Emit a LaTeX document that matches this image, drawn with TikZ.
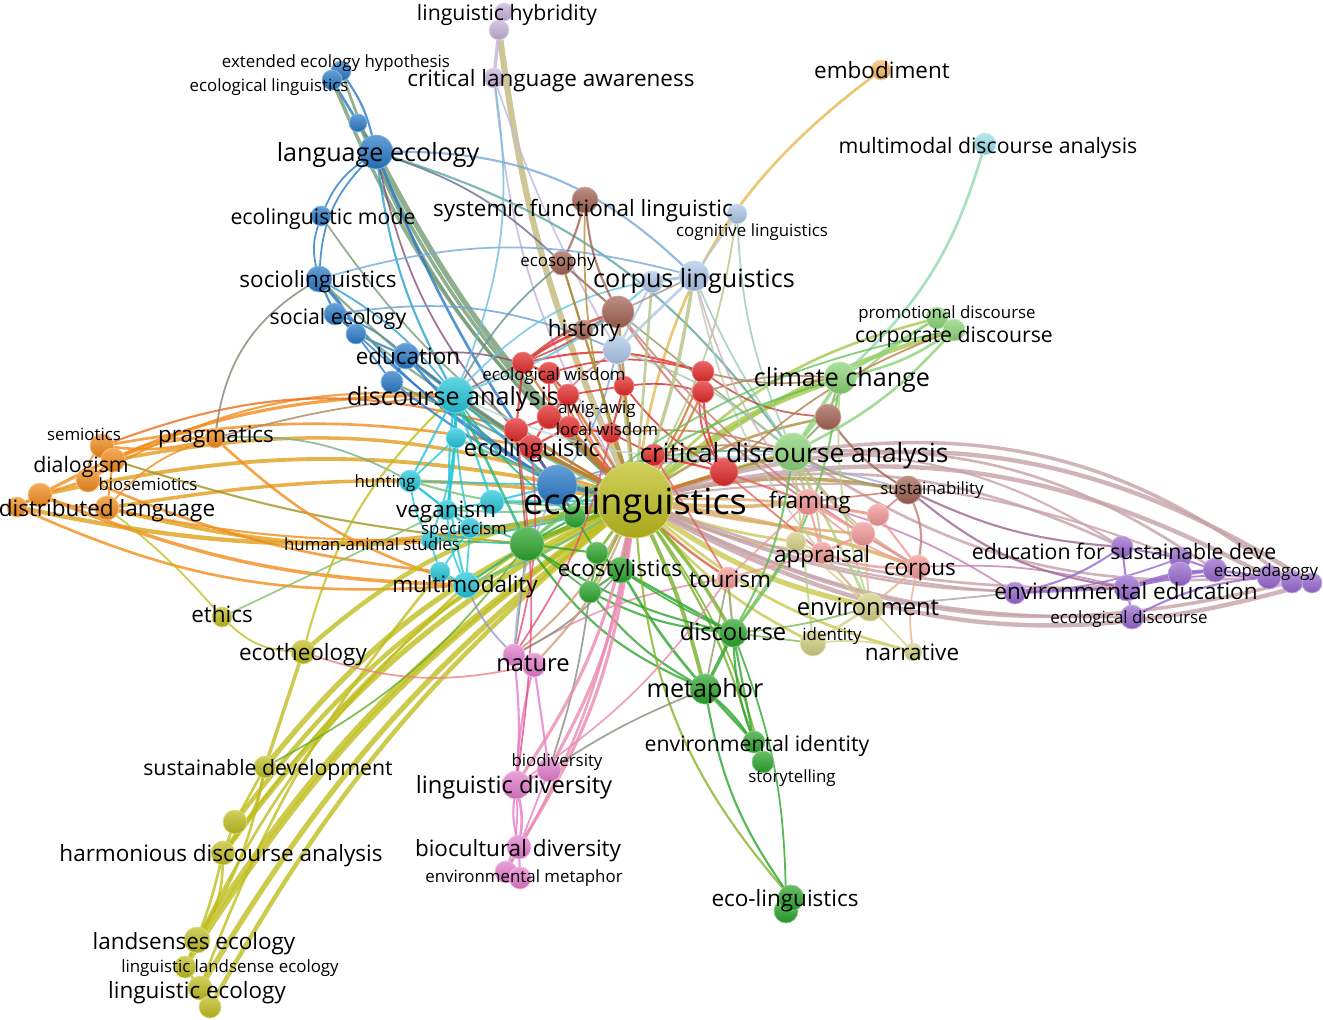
\documentclass[tikz,border=0pt]{standalone}
\usepackage{fontspec}
\setmainfont{Open Sans}
\definecolor{cRed}{RGB}{226,40,40}
\definecolor{cGreen}{RGB}{44,165,44}
\definecolor{cBlue}{RGB}{40,122,200}
\definecolor{cOlive}{RGB}{192,190,30}
\definecolor{cPurple}{RGB}{152,104,208}
\definecolor{cCyan}{RGB}{34,198,218}
\definecolor{cOrange}{RGB}{242,140,28}
\definecolor{cBrown}{RGB}{162,98,82}
\definecolor{cPink}{RGB}{228,124,204}
\definecolor{cLBlue}{RGB}{172,198,232}
\definecolor{cLGreen}{RGB}{140,212,120}
\definecolor{cSalmon}{RGB}{242,152,150}
\definecolor{cKhaki}{RGB}{212,208,132}
\definecolor{cLOrange}{RGB}{246,184,100}
\definecolor{cLCyan}{RGB}{152,222,232}
\definecolor{cLav}{RGB}{198,178,218}
\definecolor{cPO}{RGB}{198,162,168}
\pgfdeclarelayer{bg}
\pgfsetlayers{bg,main}
\tikzset{
  kw/.style={circle, inner sep=0pt, minimum size=#1*0.04cm},
  cl/.style={top color=#1!72!white, bottom color=#1!88!black, draw=#1!55!white, line width=0.4pt},
  lbl/.style={inner sep=0pt, text=black, yshift=-1.4pt},
  fXL/.style={lbl, font=\fontsize{20.5}{24}\selectfont, text height=15.4pt, text depth=4.5pt},
  fL/.style={lbl, font=\fontsize{14.3}{17}\selectfont, text height=10.7pt, text depth=3.1pt},
  fML/.style={lbl, font=\fontsize{13.5}{16}\selectfont, text height=10.1pt, text depth=3pt},
  fM/.style={lbl, font=\fontsize{12.8}{15}\selectfont, text height=9.6pt, text depth=2.8pt},
  fm/.style={lbl, font=\fontsize{12.1}{14}\selectfont, text height=9.1pt, text depth=2.7pt},
  fS/.style={lbl, font=\fontsize{9.6}{11}\selectfont, text height=7.2pt, text depth=2.1pt},
  lnk/.style={opacity=0.8, line cap=round}
}
\begin{document}
\begin{tikzpicture}[x=0.02cm, y=-0.02cm]
\useasboundingbox (0,0) rectangle (1323,1019);
%blue
\node[kw=10,cl=cBlue] (eeh) at (341,71) {};
\node[kw=10,cl=cBlue] (ell) at (332,80) {};
\node[kw=9,cl=cBlue] (b1) at (358,123) {};
\node[kw=17,cl=cBlue] (lec) at (376,152) {};
\node[kw=10,cl=cBlue] (emo) at (321,216) {};
\node[kw=13,cl=cBlue] (soc) at (319,279) {};
\node[kw=11,cl=cBlue] (sec) at (335,314) {};
\node[kw=10,cl=cBlue] (b2) at (356,334) {};
\node[kw=13,cl=cBlue] (edu) at (406,356) {};
\node[kw=11,cl=cBlue] (b3) at (392,382) {};
%cyan
\node[kw=18,cl=cCyan] (dan) at (455,395) {};
\node[kw=10,cl=cCyan] (c1) at (456,438) {};
\node[kw=11,cl=cCyan] (hun) at (410,481) {};
\node[kw=10,cl=cCyan] (veg) at (447,510) {};
\node[kw=12,cl=cCyan] (c2) at (492,502) {};
\node[kw=10,cl=cCyan] (spe) at (470,528) {};
\node[kw=9,cl=cCyan] (has) at (430,540) {};
\node[kw=10,cl=cCyan] (c3) at (440,572) {};
\node[kw=13,cl=cCyan] (mmo) at (466,585) {};
\node[kw=11,cl=cLCyan] (mda) at (985,144) {};
%red
\node[kw=11,cl=cRed] (r1) at (523,363) {};
\node[kw=11,cl=cRed] (ewi) at (549,373) {};
\node[kw=11,cl=cRed] (r2) at (568,395) {};
\node[kw=10,cl=cRed] (r3) at (624,386) {};
\node[kw=12,cl=cRed] (r4) at (549,417) {};
\node[kw=11,cl=cRed] (r5) at (569,427) {};
\node[kw=10,cl=cRed] (lwi) at (611,433) {};
\node[kw=12,cl=cRed] (r6) at (516,430) {};
\node[kw=12,cl=cRed] (eli) at (531,447) {};
\node[kw=11,cl=cRed] (r7) at (654,455) {};
\node[kw=11,cl=cRed] (r8) at (703,372) {};
\node[kw=11,cl=cRed] (r9) at (703,392) {};
\node[kw=14,cl=cRed] (r10) at (724,472) {};
%brown
\node[kw=13,cl=cBrown] (sfl) at (585,200) {};
\node[kw=12,cl=cBrown] (esp) at (562,263) {};
\node[kw=16,cl=cBrown] (br1) at (618,312) {};
\node[kw=10,cl=cBrown] (his) at (583,330) {};
\node[kw=13,cl=cBrown] (br2) at (828,417) {};
\node[kw=14,cl=cBrown] (sus) at (908,490) {};
%light blue
\node[kw=10,cl=cLBlue] (cog) at (737,214) {};
\node[kw=11,cl=cLBlue] (lb1) at (652,282) {};
\node[kw=15,cl=cLBlue] (cli) at (694,276) {};
\node[kw=14,cl=cLBlue] (lb2) at (617,350) {};
%light green
\node[kw=11,cl=cLGreen] (pro) at (937,318) {};
\node[kw=11,cl=cLGreen] (cor) at (954,330) {};
\node[kw=16,cl=cLGreen] (cch) at (840,378) {};
\node[kw=19,cl=cLGreen] (cda) at (793,452) {};
%salmon
\node[kw=13,cl=cSalmon] (fra) at (808,502) {};
\node[kw=11,cl=cSalmon] (s1) at (878,515) {};
\node[kw=12,cl=cSalmon] (s2) at (863,534) {};
\node[kw=11,cl=cSalmon] (app) at (822,553) {};
\node[kw=11,cl=cSalmon] (tou) at (728,578) {};
\node[kw=12,cl=cSalmon] (cpu) at (918,567) {};
%khaki
\node[kw=10,cl=cKhaki] (k1) at (796,542) {};
\node[kw=14,cl=cKhaki] (env) at (870,607) {};
\node[kw=13,cl=cKhaki] (ide) at (813,643) {};
\node[kw=9,cl=cKhaki] (nar) at (913,652) {};
%green
\node[kw=17,cl=cGreen] (g1) at (527,544) {};
\node[kw=11,cl=cGreen] (g2) at (575,517) {};
\node[kw=11,cl=cGreen] (g3) at (597,553) {};
\node[kw=13,cl=cGreen] (est) at (621,570) {};
\node[kw=11,cl=cGreen] (g4) at (590,592) {};
\node[kw=14,cl=cGreen] (dsc) at (733,633) {};
\node[kw=15,cl=cGreen] (met) at (705,689) {};
\node[kw=11,cl=cGreen] (eid) at (754,742) {};
\node[kw=11,cl=cGreen] (sto) at (763,762) {};
\node[kw=12,cl=cGreen] (g5) at (786,911) {};
\node[kw=13,cl=cGreen] (elg) at (791,898) {};
%pink
\node[kw=11,cl=cPink] (nat) at (514,655) {};
\node[kw=12,cl=cPink] (nat2) at (534,665) {};
\node[kw=12,cl=cPink] (bio) at (549,770) {};
\node[kw=14,cl=cPink] (ldi) at (516,785) {};
\node[kw=12,cl=cPink] (bcd) at (519,847) {};
\node[kw=11,cl=cPink] (emt) at (506,872) {};
\node[kw=11,cl=cPink] (emt2) at (520,878) {};
%purple
\node[kw=11,cl=cPurple] (esd) at (1122,547) {};
\node[kw=11,cl=cPurple] (p1) at (1180,558) {};
\node[kw=12,cl=cPurple] (p2) at (1180,574) {};
\node[kw=12,cl=cPurple] (p3) at (1215,570) {};
\node[kw=12,cl=cPurple] (p4) at (1269,577) {};
\node[kw=11,cl=cPurple] (p5) at (1292,582) {};
\node[kw=10,cl=cPurple] (p6) at (1312,583) {};
\node[kw=13,cl=cPurple] (ee) at (1127,588) {};
\node[kw=11,cl=cPurple] (ee1) at (1015,593) {};
\node[kw=12,cl=cPurple] (eds) at (1132,617) {};
%lavender, light orange
\node[kw=9,cl=cLav] (lhy2) at (504,12) {};
\node[kw=10,cl=cLav] (lhy) at (499,30) {};
\node[kw=10,cl=cLav] (cla) at (494,78) {};
\node[kw=10,cl=cLOrange] (emb) at (881,70) {};
%orange
\node[kw=12,cl=cOrange] (sem) at (102,446) {};
\node[kw=12,cl=cOrange] (dia) at (113,460) {};
\node[kw=12,cl=cOrange] (o1) at (88,480) {};
\node[kw=12,cl=cOrange] (o2) at (40,495) {};
\node[kw=10,cl=cOrange] (o3) at (17,507) {};
\node[kw=12,cl=cOrange] (o4) at (107,508) {};
\node[kw=10,cl=cOrange] (prg) at (215,438) {};
%olive
\node[kw=10,cl=cOlive] (eth) at (222,617) {};
\node[kw=12,cl=cOlive] (etg) at (303,652) {};
\node[kw=11,cl=cOlive] (sde) at (265,767) {};
\node[kw=12,cl=cOlive] (y1) at (235,822) {};
\node[kw=12,cl=cOlive] (hda) at (223,853) {};
\node[kw=13,cl=cOlive] (lse) at (197,940) {};
\node[kw=11,cl=cOlive] (lle) at (185,967) {};
\node[kw=12,cl=cOlive] (lie) at (200,988) {};
\node[kw=11,cl=cOlive] (y2) at (210,1007) {};
\node[kw=20,cl=cBlue] (b4) at (557,485) {};
\node[kw=38,cl=cOlive] (eco) at (635,500) {};
%links
\begin{pgfonlayer}{bg}
\fill[white] (0,0) rectangle (1323,1019);
\foreach \a/\b/\bd/\cc/\w in {
  o2/eco/12/cOrange!60!cOlive/2.2, o3/dan/14/cOrange/1.8, sem/eli/10/cOrange/1.5,
  dia/eco/14/cOrange!70!cOlive/2, o1/dan/16/cOrange/1.2, sem/r6/18/cOrange!70!cRed/1.2,
  o4/eco/8/cOrange!70!cOlive/2, o3/eco/-12/cOrange!60!cOlive/2.5, o2/mmo/-10/cOrange/2,
  o4/eco/-14/cOrange!60!cOlive/2.2, o1/c3/-8/cOrange/1.5, dia/g1/-6/cOrange!60!cGreen/1.2,
  o3/mmo/-14/cOrange/1.5, o4/has/-6/cOrange/1.2, prg/mmo/-12/cOrange/1.5,
  sem/dia/0/cOrange/1.2, sem/o1/-20/cOrange/1, dia/o1/0/cOrange/1.5, o1/o2/0/cOrange/1.5,
  o2/o3/0/cOrange/1.2, o2/o4/-10/cOrange/1.2, dia/o4/0/cOrange/1.2, sem/prg/-10/cOrange/1.5,
  dia/prg/10/cOrange/1.2, o1/prg/20/cOrange/1, o4/prg/15/cOrange/1, o4/eth/5/cOlive/1,
  prg/dan/5/cOrange!40!gray/1, prg/hun/15/cOrange!40!cCyan/1, soc/prg/-25/cBlue!50!cOrange/1}
  \draw[lnk, draw=\cc, line width=\w pt] (\a) to[bend left=\bd] (\b);
\foreach \a/\b/\bd/\cc/\w in {
  eth/etg/-20/cOlive/1, eth/veg/0/cOlive!60!cCyan/1, etg/eco/15/cOlive/2.5, etg/dan/15/cOlive/1.2,
  etg/sde/0/cOlive/2, sde/eco/14/cOlive/3, y1/eco/13/cOlive/2.5, hda/eco/12/cOlive/3,
  lse/eco/11/cOlive/3, lle/eco/11/cOlive/2.5, lie/eco/10/cOlive/3, y2/eco/10/cOlive/2.5,
  lse/mmo/10/cOlive/1.5, lie/c3/9/cOlive/1.5, hda/g1/8/cOlive/1.2, sde/hda/15/cOlive/1.5,
  sde/y1/0/cOlive/1.5, y1/hda/0/cOlive/1.5, hda/lse/15/cOlive/1.5, hda/lle/5/cOlive/1.5,
  lse/lle/0/cOlive/1.5, lle/lie/0/cOlive/1.5, lie/y2/0/cOlive/1.5, sde/lse/10/cOlive/1.5,
  sde/g1/-12/cGreen!60!cOlive/1, etg/nat2/-15/cOrange!40!cPink/1, lhy/eco/-8/cLav!50!cOlive/3.5,
  cor/eco/-10/cLGreen!50!cOlive/2.5, pro/eco/-15/cLGreen!50!cOlive/1.5, cch/eco/-10/cLGreen!50!cOlive/3,
  cda/eco/0/cLGreen!50!cOlive/3, env/eco/10/cKhaki!50!cOlive/3, fra/eco/5/cSalmon!50!cOlive/2,
  cpu/eco/-5/cSalmon!50!cOlive/2, app/eco/8/cKhaki!50!cOlive/1.5, k1/eco/5/cKhaki!60!cOlive/1.5,
  ide/eco/10/cKhaki!50!cOlive/1.5, nar/eco/12/cKhaki!50!cOlive/1.5, tou/eco/5/cSalmon!50!cOlive/1.5,
  s1/eco/-5/cSalmon!60!cOlive/1.5, s2/eco/3/cSalmon!60!cOlive/1.5, sus/eco/-10/cBrown!50!cOlive/2,
  br2/eco/-10/cBrown!50!cOlive/1.5}
  \draw[lnk, draw=\cc, line width=\w pt] (\a) to[bend left=\bd] (\b);
\foreach \a/\b/\bd/\cc/\w in {
  p6/eco/-24/cPO/2.5, p5/cda/-22/cPO/2, p4/eco/-20/cPO/2.5, p3/cda/-18/cPO/1.5,
  esd/eco/-18/cPO/1.5, esd/cda/-15/cPO/1.2, p1/eco/-14/cPO/1.2, p6/eco/22/cPO/2.5,
  p5/eco/20/cPO/2, p4/cda/18/cPO/1.5, eds/eco/13/cPO/1.5, ee/eco/10/cPO/1.5, ee1/eco/8/cPO/1.2,
  p3/eco/16/cPO/1.5,
  ee1/fra/-8/cPurple!50!cSalmon/1, ee/cpu/-8/cPurple!50!cSalmon/1, ee1/env/0/cPurple!50!cKhaki/1,
  sus/esd/-10/cPurple!50!cBrown/1.2, sus/ee/-15/cPurple!50!cBrown/1.2,
  esd/p1/0/cPurple/1.2, esd/ee/0/cPurple/1.2, esd/ee1/10/cPurple/1.2, p1/p2/0/cPurple/1.2,
  p1/p3/0/cPurple/1.2, p2/p3/0/cPurple/1.5, p3/p4/0/cPurple/1.5, p4/p5/0/cPurple/1.5,
  p5/p6/0/cPurple/1.2, ee/p2/0/cPurple/1.5, ee/p3/8/cPurple/1.5, ee/eds/0/cPurple/1.2,
  ee1/ee/0/cPurple/1.5, ee1/p1/-8/cPurple/1, eds/p4/10/cPurple/1.2, ee/p5/10/cPurple/1,
  lhy2/lhy/0/cLav/1.5, lhy/cla/0/cLav/2, cla/eco/-12/cLav/1, cla/lb2/-5/cLav!60!cLBlue/1,
  emb/eco/-22/cLOrange!70!cOlive/1.5, mda/cch/15/cLCyan!50!cLGreen/1.5}
  \draw[lnk, draw=\cc, line width=\w pt] (\a) to[bend left=\bd] (\b);
\foreach \a/\b/\bd/\cc/\w in {
  ell/eeh/0/cBlue/1, ell/lec/0/cBlue/1.5, eeh/lec/10/cBlue/1.2, b1/lec/0/cBlue/1.5,
  ell/eco/-12/cBlue!50!cOlive/2, eeh/eco/-14/cBlue!50!cOlive/1.5, b1/eco/-10/cBlue!50!cOlive/2,
  lec/eco/-8/cBlue!50!cOlive/3, lec/b4/-6/cBlue/1.5, lec/dan/-10/cBlue!50!cCyan/1.2,
  lec/eli/-15/cBlue!50!cRed/1, lec/cli/22/cBlue!40!cLBlue/1.2, lec/cda/18/cBlue!50!cLGreen/1.2,
  lec/esp/12/cBlue!50!cBrown/1, lec/emo/-15/cBlue/1, emo/soc/-15/cBlue/1, lec/soc/-20/cBlue/1,
  soc/sec/0/cBlue/1.2, soc/b2/10/cBlue/1, sec/b2/0/cBlue/1.2, b2/edu/0/cBlue/1.2,
  sec/edu/10/cBlue/1, edu/b3/0/cBlue/1.2, b2/b3/0/cBlue/1, soc/eco/-8/cBlue!50!cOlive/1.2,
  soc/b4/-10/cBlue/1.2, soc/dan/10/cBlue!50!cCyan/1, sec/eco/-5/cBlue!50!cOlive/1.2,
  sec/b4/-5/cBlue/1, edu/eco/-5/cBlue!50!cOlive/1.2, edu/b4/-8/cBlue/1.5, edu/dan/0/cBlue/1.2,
  b3/b4/-5/cBlue/1.2, b3/eco/0/cBlue!50!cOlive/1.2, emo/eco/-12/cBlue!50!cOlive/1,
  soc/cli/15/cBlue!40!cLBlue/1, sec/lb2/15/cBlue!50!cLBlue/1, edu/r1/10/cBlue!50!cRed/1,
  b4/eco/0/cBlue/2.5, b4/dan/0/cBlue!50!cCyan/1.5, b4/eli/0/cBlue/1.5, b4/lb2/-10/cBlue!40!cLBlue/1,
  b4/cda/10/cBlue!50!cLGreen/1, b4/sus/15/cBlue!40!cPurple!60!white/1}
  \draw[lnk, draw=\cc, line width=\w pt] (\a) to[bend left=\bd] (\b);
\foreach \a/\b/\bd/\cc/\w in {
  dan/c1/0/cCyan/1.5, dan/hun/0/cCyan/1.2, dan/veg/5/cCyan/1.2, dan/c2/0/cCyan/1.2,
  dan/spe/-5/cCyan/1, dan/mmo/-10/cCyan/1.2, dan/has/10/cCyan/1, c1/hun/0/cCyan/1,
  c1/veg/0/cCyan/1, hun/veg/0/cCyan/1.2, hun/spe/0/cCyan/1, veg/spe/0/cCyan/1.2,
  veg/c2/0/cCyan/1.2, spe/has/0/cCyan/1, spe/c3/0/cCyan/1, has/c3/0/cCyan/1, c3/mmo/0/cCyan/1.5,
  veg/mmo/-10/cCyan/1, spe/mmo/0/cCyan/1, hun/has/-10/cCyan/1, c2/eco/0/cCyan/1.5,
  dan/eco/-5/cCyan!50!cOlive/3, c1/eco/-5/cCyan!50!cOlive/1.5, hun/eco/-10/cCyan!50!cOlive/1.2,
  veg/eco/-5/cCyan!50!cOlive/1.2, spe/eco/-5/cCyan!50!cOlive/1.2, mmo/eco/-5/cCyan!50!cOlive/1.5,
  has/eco/-5/cCyan/1, hun/b4/0/cCyan/1, c2/b4/0/cCyan/1.2, dan/eli/0/cCyan!50!cRed/1.5,
  dan/r1/0/cCyan!50!cRed/1, dan/cli/20/cCyan!50!cLBlue/1, dan/cla/-15/cCyan!50!cLav/1,
  mmo/g1/0/cCyan!50!cGreen/1.2, has/g1/0/cCyan!50!cGreen/1, mmo/nat/-10/cCyan!40!cPink/1,
  veg/g1/0/cCyan!50!cGreen/1}
  \draw[lnk, draw=\cc, line width=\w pt] (\a) to[bend left=\bd] (\b);
\foreach \a/\b/\bd/\cc/\w in {
  r1/ewi/0/cRed/1.2, r1/r6/0/cRed/1.2, ewi/r2/0/cRed/1.2, ewi/r4/0/cRed/1, r2/r4/0/cRed/1.2,
  r2/r5/0/cRed/1, r2/r3/0/cRed/1, r3/lwi/0/cRed/1.2, r4/r5/0/cRed/1.2, r4/r6/0/cRed/1.2,
  r5/lwi/0/cRed/1.2, r6/eli/0/cRed/1.5, eli/r4/0/cRed/1.2, eli/r5/0/cRed/1.2, r8/r9/0/cRed/1.2,
  r3/r9/10/cRed/1, r1/r8/15/cRed/1.2, ewi/r8/15/cRed/1, r7/r10/0/cRed/1.2, lwi/r7/0/cRed/1,
  r9/r10/-10/cRed/1.2, r8/r10/-20/cRed/1, r3/r10/-10/cRed/1, r1/eco/-5/cRed!50!cOlive/1.2,
  ewi/eco/-5/cRed!50!cOlive/1.2, r2/eco/0/cRed!50!cOlive/1.5, r3/eco/0/cRed!50!cOlive/1.2,
  r4/eco/0/cRed!50!cOlive/1.5, r5/eco/0/cRed!50!cOlive/1.5, lwi/eco/0/cRed!50!cOlive/1.2,
  r6/eco/0/cRed!50!cOlive/1.5, eli/eco/0/cRed!50!cOlive/2, r7/eco/0/cRed!50!cOlive/1.5,
  r8/eco/5/cRed!50!cOlive/1.2, r9/eco/5/cRed!50!cOlive/1.2, r10/eco/0/cRed!50!cOlive/2,
  r10/cda/0/cRed!50!cLGreen/1.2, r10/fra/0/cRed!50!cSalmon/1.2, r7/cda/10/cRed!50!cLGreen/1,
  lwi/cda/10/cRed!50!cLGreen/1, r9/cch/10/cRed!50!cLGreen/1, r2/tou/-15/cRed!50!cSalmon/1,
  r6/g1/0/cRed!50!cGreen/1, eli/b4/0/cRed!50!cBlue/1.2, r1/his/5/cRed/1.5,
  r1/br1/10/cRed!60!cBrown/1.5, r4/lb2/10/cRed!50!cLBlue/1, eli/nat/10/cRed!50!cPink/1,
  r7/tou/0/cRed!50!cSalmon/1, r10/app/0/cRed!50!cSalmon/1}
  \draw[lnk, draw=\cc, line width=\w pt] (\a) to[bend left=\bd] (\b);
\foreach \a/\b/\bd/\cc/\w in {
  sfl/esp/5/cBrown/1.2, sfl/br1/-10/cBrown/1.2, esp/br1/0/cBrown/1.2, esp/his/0/cBrown/1,
  br1/his/0/cBrown/1.2, br1/lb2/0/cBrown!50!cLBlue/1, sfl/eco/-10/cBrown!50!cOlive/1,
  esp/eco/0/cBrown!50!cOlive/1.2, br1/eco/0/cBrown!50!cOlive/1.5, his/eco/0/cBrown!50!cOlive/1,
  esp/dan/-10/cBrown!50!cCyan/1, br1/r1/5/cBrown!50!cRed/1, br1/fra/-10/cBrown!50!cSalmon/1.2,
  br1/cda/0/cBrown!50!cLGreen/1, br1/cpu/-10/cBrown!50!cSalmon/1, br2/cch/0/cBrown!50!cLGreen/1.2,
  br2/sus/-10/cBrown/1.2, br2/cda/0/cBrown!50!cLGreen/1.2, br2/r8/15/cBrown!50!cRed/1,
  sus/cpu/15/cBrown!50!cSalmon/1.2, sus/cda/10/cBrown!50!cLGreen/1.2, sus/fra/0/cBrown!50!cSalmon/1,
  sus/s1/0/cBrown!50!cSalmon/1, cog/cli/0/cLBlue/1, cli/lb1/0/cLBlue/1.5, cli/lb2/0/cLBlue/1.5,
  lb1/lb2/0/cLBlue/1.2, cog/eco/10/cLBlue!50!cOlive/1, cli/eco/5/cLBlue!50!cOlive/2,
  lb1/eco/0/cLBlue!50!cOlive/1.5, lb2/eco/0/cLBlue!50!cOlive/1.5, cli/cda/-5/cLBlue!50!cLGreen/1,
  cli/fra/-10/cLBlue!50!cSalmon/1, cli/env/-15/cLBlue!50!cKhaki/1, lb1/dan/10/cLBlue!50!cCyan/1.2,
  cli/br1/0/cLBlue!50!cBrown/1, cog/cda/-10/cLBlue!50!cLGreen/1, lb2/cda/10/cLBlue!50!cLGreen/1,
  lb2/r3/0/cLBlue!50!cRed/1}
  \draw[lnk, draw=\cc, line width=\w pt] (\a) to[bend left=\bd] (\b);
\foreach \a/\b/\bd/\cc/\w in {
  pro/cor/0/cLGreen/1.5, pro/cch/0/cLGreen/1.5, cor/cch/10/cLGreen/1.5, cch/cda/0/cLGreen/2,
  cor/cda/10/cLGreen/1.5, pro/cda/-10/cLGreen/1.2, cor/r10/-10/cLGreen!50!cRed/1,
  cch/r8/10/cLGreen!50!cRed/1, cda/fra/0/cLGreen!50!cSalmon/1.5, cda/app/10/cLGreen!50!cSalmon/1,
  cda/env/0/cLGreen!50!cKhaki/1.5, cda/dsc/10/cLGreen!50!cGreen/1.2, cch/dsc/15/cLGreen!60!cGreen/1.2,
  cch/env/-10/cLGreen!50!cKhaki/1, cda/ide/0/cLGreen!50!cKhaki/1, cda/s2/-5/cLGreen!50!cSalmon/1,
  cda/cpu/-10/cLGreen!50!cSalmon/1, cda/dan/15/cLGreen!40!cBlue!40!white/1,
  cor/g1/-15/cLGreen!60!cGreen/1, cch/g1/-10/cLGreen!60!cGreen/1.2,
  fra/s1/0/cSalmon/1.2, fra/s2/0/cSalmon/1.5, s1/s2/0/cSalmon/1.2, s1/cpu/0/cSalmon/1.2,
  s2/cpu/0/cSalmon/1.5, s2/app/0/cSalmon/1.5, fra/app/0/cSalmon/1.2, app/tou/0/cSalmon/1.2,
  fra/tou/0/cSalmon/1, fra/cpu/-10/cSalmon/1, app/cpu/-10/cSalmon/1.5, k1/app/0/cKhaki/1,
  k1/fra/0/cKhaki!50!cSalmon/1, k1/env/0/cKhaki/1, env/ide/0/cKhaki/1.5, env/nar/0/cKhaki/1,
  ide/nar/10/cKhaki/1, env/cpu/0/cKhaki!50!cSalmon/1.2, env/s2/0/cKhaki!50!cSalmon/1,
  env/app/0/cKhaki!50!cSalmon/1, env/dsc/5/cKhaki!50!cGreen/1, ide/dsc/0/cKhaki!50!cGreen/1,
  tou/dsc/0/cSalmon!50!cGreen/1.2, tou/met/0/cSalmon!50!cGreen/1, k1/dsc/0/cKhaki!50!cGreen/1,
  nar/cpu/10/cKhaki!50!cSalmon/1, tou/nat/-10/cSalmon!50!cPink/1}
  \draw[lnk, draw=\cc, line width=\w pt] (\a) to[bend left=\bd] (\b);
\foreach \a/\b/\bd/\cc/\w in {
  g1/eco/0/cGreen!50!cOlive/2.5, g2/eco/0/cGreen!50!cOlive/1.5, g3/eco/0/cGreen!50!cOlive/1.5,
  est/eco/0/cGreen!50!cOlive/2, g4/eco/0/cGreen!50!cOlive/1.5, dsc/eco/-5/cGreen!50!cOlive/2,
  met/eco/-5/cGreen!50!cOlive/2.2, eid/eco/-8/cGreen!50!cOlive/1.2, sto/eco/-10/cGreen!50!cOlive/1,
  g1/g2/0/cGreen/1.2, g1/g3/0/cGreen/1.2, g3/est/0/cGreen/1.2, g3/g4/0/cGreen/1.2,
  est/g4/0/cGreen/1.2, g1/g4/0/cGreen/1, g2/g3/0/cGreen/1, est/dsc/0/cGreen/1.5,
  g3/dsc/-5/cGreen/1, g4/dsc/-10/cGreen/1.2, g4/met/-10/cGreen/1.2, est/met/-5/cGreen/1.5,
  g1/met/-15/cGreen/1.2, g1/dsc/-10/cGreen/1.2, dsc/met/0/cGreen/2, dsc/eid/0/cGreen/1.2,
  met/eid/0/cGreen/1.5, met/sto/10/cGreen/1.2, eid/sto/0/cGreen/1.2, dsc/sto/-10/cGreen/1.2,
  eco/elg/-18/cGreen!40!cOlive/1.2, met/elg/-12/cGreen/1.2, g5/dsc/-10/cGreen/1, elg/g5/0/cGreen/1.5,
  g1/nat/0/cGreen!50!cPink/1, g1/dan/0/cGreen!50!cCyan/1.5, g2/b4/0/cGreen!50!cBlue/1.2,
  g2/dan/10/cGreen!50!cCyan/1, est/nat/10/cGreen!50!cPink/1, g4/bio/5/cGreen!50!cPink/1,
  nat/nat2/0/cPink/1.2, nat/ldi/5/cPink/1.2, nat2/ldi/-5/cPink/1.2, nat2/bio/0/cPink/1.2,
  ldi/bio/0/cPink/1.5, ldi/bcd/10/cPink/1.5, ldi/bcd/-10/cPink/1.2, bio/bcd/0/cPink/1,
  bcd/emt/0/cPink/1.5, bcd/emt2/0/cPink/1.2, emt/emt2/0/cPink/1.2, ldi/emt/10/cPink/1,
  nat/eco/-10/cPink!50!cOlive/1.2, nat2/eco/-10/cPink!50!cOlive/1.2, ldi/eco/-10/cPink!50!cSalmon/1.8,
  bio/eco/-10/cPink!50!cSalmon/1.8, bcd/eco/-12/cPink!50!cSalmon/1.8, emt/eco/-10/cPink!50!cSalmon/1.4,
  bio/met/5/cPink!50!cGreen/1, ldi/tou/-10/cPink!50!cSalmon/1, nat/b4/10/cPink!40!cBlue!60!white/1,
  nat/lwi/-10/cPink!50!cRed/1, ldi/r6/-8/cPink!50!cRed/1}
  \draw[lnk, draw=\cc, line width=\w pt] (\a) to[bend left=\bd] (\b);
\end{pgfonlayer}
%labels
\node[fm] (t-lhy) at (507,12) {linguistic hybridity};
\node[fM] (t-cla) at (551,78) {critical language awareness};
\node[fS] (t-eeh) at (336,61) {extended ecology hypothesis};
\node[fS] (t-ell) at (269,85) {ecological linguistics};
\node[fL] (t-lec) at (378,152) {language ecology};
\node[fm] (t-emo) at (323,216) {ecolinguistic mode};
\node[fM] (t-soc) at (318,279) {sociolinguistics};
\node[fm] (t-sec) at (338,316) {social ecology};
\node[fM] (t-edu) at (408,356) {education};
\node[fL] (t-dan) at (453,396) {discourse analysis};
\node[fM] (t-sfl) at (583,208) {systemic functional linguistic};
\node[fS] (t-cog) at (752,230) {cognitive linguistics};
\node[fS] (t-esp) at (558,260) {ecosophy};
\node[fL] (t-cli) at (694,278) {corpus linguistics};
\node[fM] (t-his) at (584,328) {history};
\node[fM] (t-emb) at (882,70) {embodiment};
\node[fm] (t-mda) at (988,145) {multimodal discourse analysis};
\node[fS] (t-pro) at (947,312) {promotional discourse};
\node[fm] (t-cor) at (954,334) {corporate discourse};
\node[fL] (t-cch) at (842,377) {climate change};
\node[fS] (t-ewi) at (554,374) {ecological wisdom};
\node[fS] (t-awi) at (597,407) {awig-awig};
\node[fS] (t-lwi) at (607,429) {local wisdom};
\node[fML] (t-eli) at (532,448) {ecolinguistic};
\node[fL, font=\fontsize{15}{18}\selectfont] (t-cda) at (794,453) {critical discourse analysis};
\node[fS] (t-sem) at (84,434) {semiotics};
\node[fM] (t-prg) at (216,434) {pragmatics};
\node[fm] (t-dia) at (81,464) {dialogism};
\node[fS] (t-bse) at (148,484) {biosemiotics};
\node[fM] (t-dis) at (107,508) {distributed language};
\node[fS] (t-hun) at (385,481) {hunting};
\node[fM] (t-veg) at (446,509) {veganism};
\node[fS] (t-spe) at (464,528) {speciecism};
\node[fS] (t-has) at (372,544) {human-animal studies};
\node[fM] (t-mmo) at (465,584) {multimodality};
\node[fXL] (t-eco) at (635,502) {ecolinguistics};
\node[fM] (t-fra) at (810,500) {framing};
\node[fS] (t-sus) at (932,488) {sustainability};
\node[fM] (t-app) at (822,554) {appraisal};
\node[fM] (t-cpu) at (920,567) {corpus};
\node[fM] (t-tou) at (730,579) {tourism};
\node[fM] (t-est) at (620,568) {ecostylistics};
\node[fm] (t-esd) at (1124,551) {education for sustainable deve};
\node[fM] (t-ee) at (1126,591) {environmental education};
\node[fS] (t-eds) at (1129,617) {ecological discourse};
\node[fS] (t-epe) at (1266,570) {ecopedagogy};
\node[fML] (t-env) at (868,607) {environment};
\node[fS] (t-ide) at (832,634) {identity};
\node[fM] (t-nar) at (912,652) {narrative};
\node[fML] (t-dsc) at (733,632) {discourse};
\node[fM] (t-eth) at (222,614) {ethics};
\node[fM] (t-etg) at (303,652) {ecotheology};
\node[fML] (t-nat) at (533,663) {nature};
\node[fL] (t-met) at (705,688) {metaphor};
\node[fm] (t-eid) at (757,743) {environmental identity};
\node[fS] (t-sto) at (792,776) {storytelling};
\node[fS] (t-bio) at (557,760) {biodiversity};
\node[fML] (t-ldi) at (514,785) {linguistic diversity};
\node[fm] (t-sde) at (268,767) {sustainable development};
\node[fM] (t-hda) at (221,853) {harmonious discourse analysis};
\node[fM] (t-bcd) at (518,848) {biocultural diversity};
\node[fS] (t-emt) at (524,876) {environmental metaphor};
\node[fM] (t-elg) at (785,898) {eco-linguistics};
\node[fM] (t-lse) at (194,941) {landsenses ecology};
\node[fS] (t-lle) at (230,966) {linguistic landsense ecology};
\node[fM] (t-lie) at (197,990) {linguistic ecology};
\end{tikzpicture}
\end{document}
